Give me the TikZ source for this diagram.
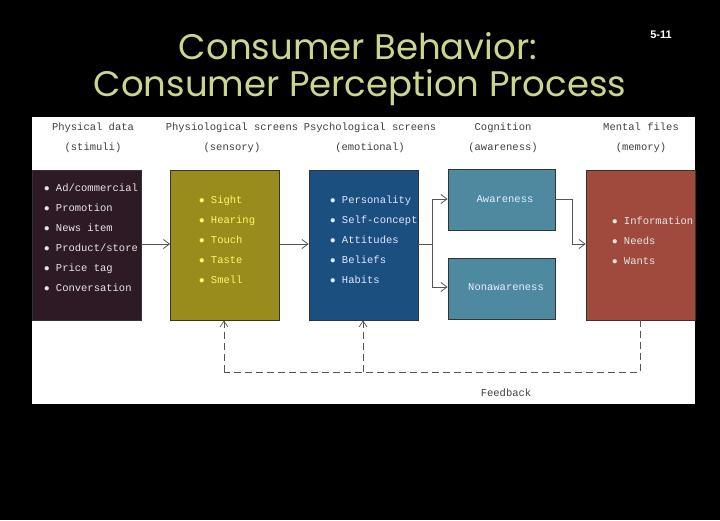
\documentclass[tikz,border=0pt]{standalone}
\usepackage{fontspec}
\setmainfont{Liberation Sans}
\newfontfamily\mono{Liberation Mono}
\newfontfamily\titlefont{Poppins}
\usetikzlibrary{arrows.meta}
\definecolor{titlec}{HTML}{C9D68E}
\definecolor{physc}{HTML}{2E1A24}
\definecolor{sensc}{HTML}{9A8C1C}
\definecolor{psyc}{HTML}{1A4F80}
\definecolor{cogc}{HTML}{4D8AA0}
\definecolor{memc}{HTML}{A04A3E}
\definecolor{linec}{HTML}{555555}
\tikzset{
  box/.style={draw=black!80, line width=0.8pt, minimum width=109pt, minimum height=150pt, inner sep=0pt},
  cogbox/.style={box, minimum width=107pt, minimum height=61pt},
  head/.style={font=\mono\fontsize{10.5}{20}\selectfont, text=black!75, align=center},
  items/.style={font=\mono\fontsize{10.5}{20}\selectfont, align=left, inner sep=0pt},
  conn/.style={draw=linec, line width=0.8pt, -{Straight Barb[length=6pt,width=9pt]}},
  fb/.style={draw=linec, line width=0.7pt, dashed, dash pattern=on 7pt off 4pt},
}
\begin{document}
\begin{tikzpicture}[x=1pt,y=-1pt]
\fill[black] (0,0) rectangle (720,520);
\useasboundingbox (0,0) rectangle (720,520);
\fill[white] (32,117) rectangle (695,404);
\node[font=\titlefont\fontsize{35.5}{40}\selectfont, text=titlec] (t1) at (358,46) {Consumer Behavior:};
\node[font=\titlefont\fontsize{35.5}{40}\selectfont, text=titlec] (t2) at (360,88) {Consumer Perception Process};
\node[font=\bfseries\fontsize{11}{13}\selectfont, text=white] (num) at (661,35) {5-11};

\node[head] (h1) at (93,138) {Physical data\\(stimuli)};
\node[head] (h2) at (232,138) {Physiological screens\\(sensory)};
\node[head] (h3) at (370,138) {Psychological screens\\(emotional)};
\node[head] (h4) at (503,138) {Cognition\\(awareness)};
\node[head] (h5) at (641,138) {Mental files\\(memory)};

\node[box, fill=physc] (b1) at (86.5,245) {};
\node[box, fill=sensc] (b2) at (225,245) {};
\node[box, fill=psyc] (b3) at (363.5,245) {};
\node[cogbox, fill=cogc] (b4) at (501.5,200) {};
\node[cogbox, fill=cogc] (b5) at (501.5,289) {};
\node[box, fill=memc] (b6) at (640.5,245) {};

\node[items, text=white!90!black, anchor=north west] (l1) at (44,184) {$\bullet$ Ad/commercial\\$\bullet$ Promotion\\$\bullet$ News item\\$\bullet$ Product/store\\$\bullet$ Price tag\\$\bullet$ Conversation};
\node[items, text=yellow!60!white, anchor=north west] (l2) at (199,196) {$\bullet$ Sight\\$\bullet$ Hearing\\$\bullet$ Touch\\$\bullet$ Taste\\$\bullet$ Smell};
\node[items, text=blue!10!white, anchor=north west] (l3) at (330,196) {$\bullet$ Personality\\$\bullet$ Self-concept\\$\bullet$ Attitudes\\$\bullet$ Beliefs\\$\bullet$ Habits};
\node[items, text=blue!8!white] (l4) at (505,199) {Awareness};
\node[items, text=blue!8!white] (l5) at (506,287) {Nonawareness};
\node[items, text=white!90!black, anchor=north west] (l6) at (612,217) {$\bullet$ Information\\$\bullet$ Needs\\$\bullet$ Wants};

\coordinate (sp) at (432,244);
\coordinate (aw) at (572,199);
\draw[conn] (b1.east |- 0,244) -- (b2.west |- 0,244);
\draw[conn] (b2.east |- 0,244) -- (b3.west |- 0,244);
\draw[draw=linec, line width=0.8pt] (b3.east |- 0,244) -- (sp);
\draw[conn] (sp) |- (b4.west |- 0,199);
\draw[conn] (sp) |- (b5.west |- 0,287);
\draw[conn] (b4.east |- 0,199) -- (aw) |- (b6.west |- 0,244);

\coordinate (f1) at (640,372);
\coordinate (f2) at (224,372);
\coordinate (f3) at (363,372);
\draw[fb] (b6.south -| f1) -- (f1) -- (f2);
\draw[fb, -{Straight Barb[length=6pt,width=8pt]}] (f2) -- (b2.south -| f2);
\draw[fb, -{Straight Barb[length=6pt,width=8pt]}] (f3) -- (b3.south -| f3);
\node[head] (fl) at (506,393) {Feedback};
\end{tikzpicture}
\end{document}
